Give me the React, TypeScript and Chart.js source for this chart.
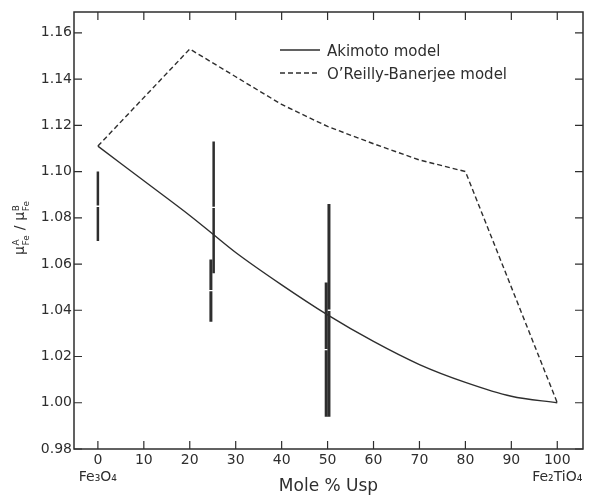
import React, { useEffect, useRef } from 'react';
import { Chart, registerables } from 'chart.js';

Chart.register(...registerables);

// ---- data ----
const AKIMOTO_X = [0, 10, 20, 25, 30, 40, 50, 60, 70, 80, 90, 100];
const AKIMOTO_Y = [1.111, 1.096, 1.081, 1.073, 1.065, 1.051, 1.038, 1.0265, 1.0165, 1.0088, 1.0028, 1.0];

const OREILLY_X = [0, 20, 30, 40, 50, 60, 70, 80, 100];
const OREILLY_Y = [1.111, 1.153, 1.141, 1.129, 1.1195, 1.112, 1.105, 1.1, 1.0];

const ERR_X = [0, 25.2, 24.6, 50.3, 49.7];
const ERR_LOW = [1.07, 1.056, 1.035, 0.994, 0.994];
const ERR_HIGH = [1.1, 1.113, 1.062, 1.086, 1.052];

const X_TICKS = [0, 10, 20, 30, 40, 50, 60, 70, 80, 90, 100];
const X_TICK_LABELS: (string | string[])[] = [
  ['0', 'Fe₃O₄'], '10', '20', '30', '40', '50', '60', '70', '80', '90', ['100', 'Fe₂TiO₄'],
];
const Y_TICKS = [0.98, 1.0, 1.02, 1.04, 1.06, 1.08, 1.1, 1.12, 1.14, 1.16];

const LEGEND_LABELS = ['Akimoto model', 'O’Reilly-Banerjee model'];
const X_TITLE = 'Mole % Usp';

// ---- styles ----
const INK = '#2e2e2e';
const FONT = '"DejaVu Sans", sans-serif';
const ERR_WIDTHS = [2.5, 2.5, 3, 3, 3];
const GAP = 0.0003;

const framePlugin = {
  id: 'frameTicks',
  beforeDraw(chart: any) {
    const { ctx, width, height } = chart;
    ctx.save();
    ctx.fillStyle = '#ffffff';
    ctx.fillRect(0, 0, width, height);
    ctx.restore();
  },
  afterDraw(chart: any) {
    const { ctx, chartArea: a, scales } = chart;
    ctx.save();
    ctx.strokeStyle = INK;
    ctx.lineWidth = 1.5;
    ctx.strokeRect(a.left, a.top, a.right - a.left, a.bottom - a.top);
    ctx.lineWidth = 1.2;
    ctx.beginPath();
    X_TICKS.forEach((v) => {
      const px = scales.x.getPixelForValue(v);
      ctx.moveTo(px, a.bottom);
      ctx.lineTo(px, a.bottom - 8);
      ctx.moveTo(px, a.top);
      ctx.lineTo(px, a.top + 8);
    });
    Y_TICKS.forEach((v) => {
      const py = scales.y.getPixelForValue(v);
      ctx.moveTo(a.left, py);
      ctx.lineTo(a.left + 8, py);
      ctx.moveTo(a.right, py);
      ctx.lineTo(a.right - 8, py);
    });
    ctx.stroke();

    // legend
    const items = [
      { y: 50, dash: [] as number[], label: LEGEND_LABELS[0] },
      { y: 73, dash: [5, 3], label: LEGEND_LABELS[1] },
    ];
    items.forEach((it) => {
      ctx.beginPath();
      ctx.setLineDash(it.dash);
      ctx.lineWidth = 1.3;
      ctx.moveTo(280, it.y);
      ctx.lineTo(320, it.y);
      ctx.stroke();
      ctx.setLineDash([]);
      ctx.fillStyle = INK;
      ctx.font = `15px ${FONT}`;
      ctx.textBaseline = 'alphabetic';
      ctx.textAlign = 'left';
      ctx.fillText(it.label, 327, it.y + 6);
    });

    // y-axis label: mu^A_Fe / mu^B_Fe, rotated
    ctx.save();
    ctx.translate(24, 228);
    ctx.rotate(-Math.PI / 2);
    ctx.fillStyle = INK;
    ctx.textBaseline = 'alphabetic';
    ctx.textAlign = 'left';
    const big = `14px ${FONT}`;
    const small = `9px ${FONT}`;
    const parts: { t: string; sup: string; sub: string }[] = [
      { t: 'μ', sup: 'A', sub: 'Fe' },
      { t: ' / ', sup: '', sub: '' },
      { t: 'μ', sup: 'B', sub: 'Fe' },
    ];
    let total = 0;
    const widths = parts.map((p) => {
      ctx.font = big;
      const w1 = ctx.measureText(p.t).width;
      ctx.font = small;
      const w2 = Math.max(ctx.measureText(p.sup).width, ctx.measureText(p.sub).width);
      total += w1 + w2 + (w2 ? 1 : 0);
      return [w1, w2];
    });
    let x = -total / 2;
    parts.forEach((p, i) => {
      ctx.font = big;
      ctx.fillText(p.t, x, 0);
      x += widths[i][0] + 0.5;
      if (widths[i][1]) {
        ctx.font = small;
        ctx.fillText(p.sup, x, -5);
        ctx.fillText(p.sub, x, 5);
        x += widths[i][1] + 0.5;
      }
    });
    ctx.restore();
    ctx.restore();
  },
};

export default function App() {
  const ref = useRef<HTMLCanvasElement | null>(null);

  useEffect(() => {
    if (!ref.current) return;
    const errSets = ERR_X.map((xv, i) => {
      const mid = (ERR_LOW[i] + ERR_HIGH[i]) / 2;
      return {
        label: 'err' + i,
        data: [
          { x: xv, y: ERR_LOW[i] },
          { x: xv, y: mid - GAP },
          { x: xv, y: null },
          { x: xv, y: mid + GAP },
          { x: xv, y: ERR_HIGH[i] },
        ],
        borderColor: INK,
        borderWidth: ERR_WIDTHS[i],
        borderCapStyle: 'butt',
        pointRadius: 0,
        spanGaps: false,
        fill: false,
        tension: 0,
      };
    });
    const chart = new Chart(ref.current, {
      type: 'line',
      data: {
        datasets: [
          {
            label: LEGEND_LABELS[0],
            data: AKIMOTO_X.map((x, i) => ({ x, y: AKIMOTO_Y[i] })),
            borderColor: INK,
            borderWidth: 1.4,
            pointRadius: 0,
            cubicInterpolationMode: 'monotone',
            fill: false,
          },
          {
            label: LEGEND_LABELS[1],
            data: OREILLY_X.map((x, i) => ({ x, y: OREILLY_Y[i] })),
            borderColor: INK,
            borderWidth: 1.4,
            borderDash: [5, 3],
            pointRadius: 0,
            tension: 0,
            fill: false,
          },
          ...errSets,
        ] as any,
      },
      options: {
        animation: false,
        responsive: false,
        events: [],
        layout: { padding: { top: 12, right: 7, left: 0, bottom: 0 } },
        plugins: {
          legend: { display: false },
          tooltip: { enabled: false },
        },
        scales: {
          x: {
            type: 'linear',
            min: -5.2,
            max: 105.6,
            grid: { display: false, drawTicks: false },
            border: { display: false },
            afterBuildTicks: (s: any) => {
              s.ticks = X_TICKS.map((v) => ({ value: v }));
            },
            afterFit: (s: any) => {
              s.height = 46;
            },
            ticks: {
              autoSkip: false,
              maxRotation: 0,
              padding: 3,
              color: INK,
              font: { family: FONT, size: 14 },
              callback: (_v: any, i: number) => X_TICK_LABELS[i],
            },
            title: {
              display: true,
              text: X_TITLE,
              color: INK,
              font: { family: FONT, size: 17, lineHeight: 1 },
              padding: { top: 0, bottom: 0 },
            },
          },
          y: {
            type: 'linear',
            min: 0.98,
            max: 1.169,
            grid: { display: false, drawTicks: false },
            border: { display: false },
            afterBuildTicks: (s: any) => {
              s.ticks = Y_TICKS.map((v) => ({ value: v }));
            },
            afterFit: (s: any) => {
              s.width = 74;
            },
            ticks: {
              padding: 2,
              color: INK,
              font: { family: FONT, size: 14 },
              callback: (v: any) => Number(v).toFixed(2),
            },
          },
        },
      } as any,
      plugins: [framePlugin],
    });
    return () => chart.destroy();
  }, []);

  return (
    <div style={{ position: 'absolute', left: 0, top: 0, width: 590, height: 495, background: '#fff' }}>
      <canvas ref={ref} width={590} height={495} />
    </div>
  );
}
